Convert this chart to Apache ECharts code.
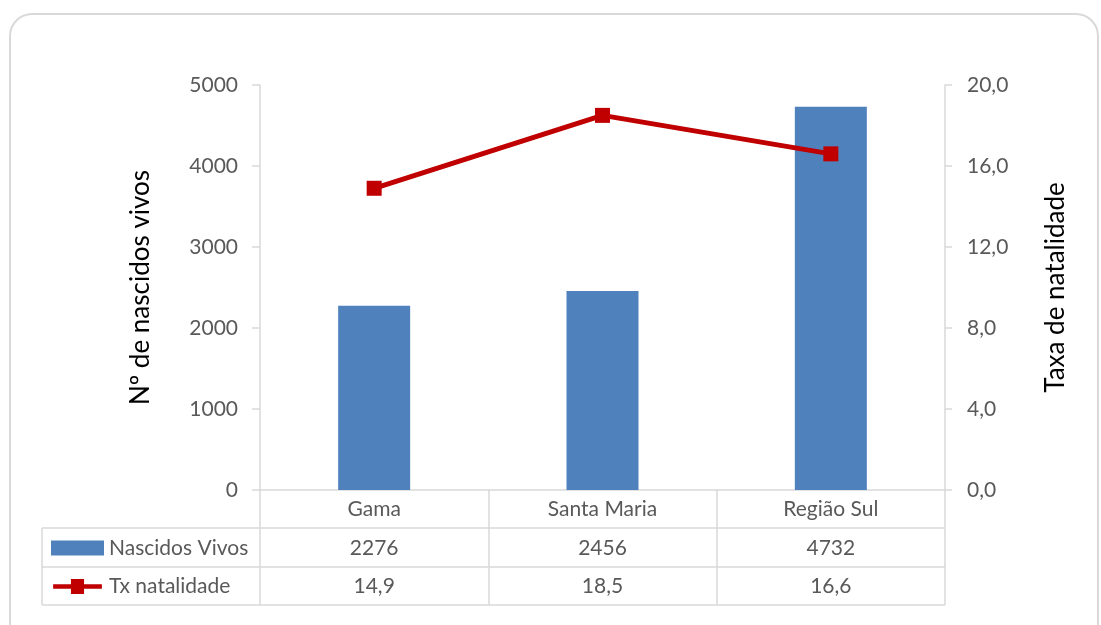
<!DOCTYPE html>
<html>
<head>
<meta charset="utf-8">
<script src="https://cdn.jsdelivr.net/npm/echarts@6/dist/echarts.min.js"></script>
<style>
  html, body { margin: 0; padding: 0; background: #fff; }
  #chart { width: 1101px; height: 625px; }
</style>
</head>
<body>
<div id="chart"></div>
<script>
const categories = ["Gama", "Santa Maria", "Região Sul"];
const nascidosVivos = [2276, 2456, 4732];
const txNatalidade = [14.9, 18.5, 16.6];

const FONT = "Lato";
const GREY = "#d9d9d9";
const TEXT = "#595959";

const comma = (v) => v.toFixed(1).replace(".", ",");

const chart = echarts.init(document.getElementById("chart"));

// data table rows under the plot (category row is the axis label itself)
const rowLines = [528, 567, 605].map((y) => ({
    type: "line",
    shape: { x1: 42, y1: y, x2: 945, y2: y },
    style: { stroke: GREY, lineWidth: 1.5 },
}));

// thick line with a square in the middle, like the Excel legend key
const lineKey = "path://M0,5.5L19,5.5L19,0L33,0L33,5.5L52,5.5L52,10.5L33,10.5L33,16L19,16L19,10.5L0,10.5Z";

chart.setOption({
    animation: false,
    textStyle: { fontFamily: FONT },
    grid: { left: 260, right: 156, top: 85, bottom: 135 },
    legend: {
        orient: "vertical",
        left: 51,
        top: 536,
        padding: 0,
        itemWidth: 53,
        itemHeight: 15,
        itemGap: 14.5,
        textStyle: { fontSize: 21, color: TEXT, lineHeight: 24 },
        data: [
            { name: "Nascidos Vivos", icon: "rect" },
            { name: "Tx natalidade", icon: lineKey },
        ],
    },
    xAxis: {
        type: "category",
        data: categories,
        axisLine: { lineStyle: { color: GREY, width: 1.5 } },
        axisTick: { show: true, interval: 0, length: 115, lineStyle: { color: GREY, width: 1.5 } },
        axisLabel: {
            interval: 0,
            margin: 0,
            formatter: (v, i) => `{c|${v}}\n{c|${nascidosVivos[i]}}\n{c|${comma(txNatalidade[i])}}`,
            rich: { c: { fontSize: 21, color: TEXT, lineHeight: 38.5, fontFamily: FONT } },
        },
    },
    yAxis: [
        {
            type: "value",
            min: 0,
            max: 5000,
            interval: 1000,
            name: "Nº de nascidos vivos",
            nameLocation: "middle",
            nameGap: 106,
            nameTextStyle: { fontSize: 26, color: "#000" },
            axisLine: { show: true, lineStyle: { color: GREY, width: 1.5 } },
            axisTick: { show: true, length: 8, lineStyle: { color: GREY, width: 1.5 } },
            axisLabel: { fontSize: 21, color: TEXT, margin: 22, formatter: (v) => String(v) },
            splitLine: { show: false },
        },
        {
            type: "value",
            min: 0,
            max: 20,
            interval: 4,
            name: "Taxa de natalidade",
            nameLocation: "middle",
            nameGap: 98,
            nameTextStyle: { fontSize: 26, color: "#000" },
            axisLine: { show: true, lineStyle: { color: GREY, width: 1.5 } },
            axisTick: { show: true, length: 7, lineStyle: { color: GREY, width: 1.5 } },
            axisLabel: { fontSize: 21, color: TEXT, margin: 22, formatter: comma },
            splitLine: { show: false },
        },
    ],
    series: [
        {
            name: "Nascidos Vivos",
            type: "bar",
            data: nascidosVivos,
            barWidth: 72,
            itemStyle: { color: "#4F81BD" },
        },
        {
            name: "Tx natalidade",
            type: "line",
            yAxisIndex: 1,
            data: txNatalidade,
            symbol: "rect",
            symbolSize: 15,
            lineStyle: { color: "#C00000", width: 5 },
            itemStyle: { color: "#C00000" },
        },
    ],
    graphic: [
        {
            type: "rect",
            shape: { x: 10, y: 14, width: 1088, height: 650, r: 22 },
            style: { fill: "none", stroke: GREY, lineWidth: 2 },
            silent: true,
        },
        ...rowLines,
        {
            type: "line",
            shape: { x1: 42, y1: 528, x2: 42, y2: 605 },
            style: { stroke: GREY, lineWidth: 1.5 },
        },
    ],
});
</script>
</body>
</html>
